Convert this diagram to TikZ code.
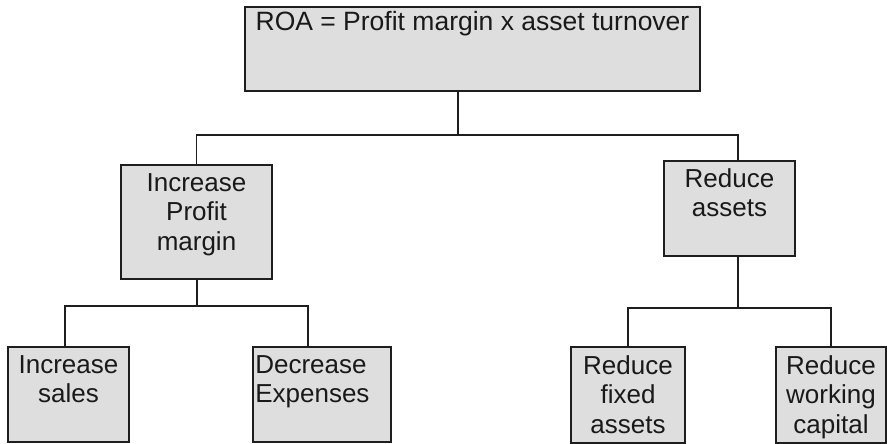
\documentclass[tikz,border=0pt]{standalone}
\usepackage{fontspec}
\setmainfont{Liberation Sans}
\usepackage{tikz}
\usetikzlibrary{positioning,calc}
\definecolor{pline}{HTML}{1E1E1E}
\definecolor{pfill}{HTML}{DEDEDE}
\tikzset{
  pbox/.style={draw=pline, fill=pfill, line width=1.8pt, inner sep=0pt},
  ptxt/.style={font=\fontsize{26}{29.5}\selectfont, align=center, inner sep=0pt,
               text=black!90},
  plink/.style={draw=pline, line width=1.4pt},
}

\begin{document}
\begin{tikzpicture}[x=1pt,y=-1pt]
  \useasboundingbox (0,0) rectangle (887,444);

  % ratio at the top
  \node[pbox, minimum width=455, minimum height=84,
        label={[ptxt, font=\fontsize{26.5}{30}\selectfont, anchor=north, yshift=-5pt]north:ROA = Profit margin x asset turnover}]
        (roa) at (472.5,49) {};

  % two ways
  \node[pbox, minimum width=151, minimum height=114,
        label={[ptxt, anchor=north, yshift=-9pt]north:Increase\\Profit\\margin}]
        (margin) at (196.5,222) {};
  \node[pbox, minimum width=131, minimum height=95,
        label={[ptxt, anchor=north, yshift=-8pt]north:Reduce\\assets}]
        (assets) at (729.5,208.5) {};

  % actions
  \node[pbox, minimum width=121, minimum height=95,
        label={[ptxt, anchor=north, yshift=-9pt]north:Increase\\sales}]
        (sales) at (68.5,394.5) {};
  \node[pbox, minimum width=138, minimum height=95,
        label={[ptxt, align=left, anchor=north west, xshift=3pt, yshift=-9pt]north west:Decrease\\Expenses}]
        (expenses) at (322,394.5) {};
  \node[pbox, minimum width=114, minimum height=96,
        label={[ptxt, anchor=north, yshift=-9pt]north:Reduce\\fixed\\assets}]
        (fixed) at (628,395) {};
  \node[pbox, minimum width=110, minimum height=96,
        label={[ptxt, anchor=north, yshift=-9pt]north:Reduce\\working\\capital}]
        (working) at (831,395) {};

  % connectors
  \coordinate (hub) at (458,135);
  \coordinate (busL) at (197,306);
  \coordinate (busR) at (738,308);

  \draw[plink] (roa.south -| hub) -- (hub);
  \draw[plink] (margin.north) |- (hub) -| (busR |- assets.north);

  \draw[plink] (margin.south -| busL) -- (busL);
  \draw[plink] ([xshift=-3.5pt]sales.north) |- (busL) -| ([xshift=-14pt]expenses.north);

  \draw[plink] (assets.south -| busR) -- (busR);
  \draw[plink] (fixed.north) |- (busR) -| (working.north);

\end{tikzpicture}
\end{document}
